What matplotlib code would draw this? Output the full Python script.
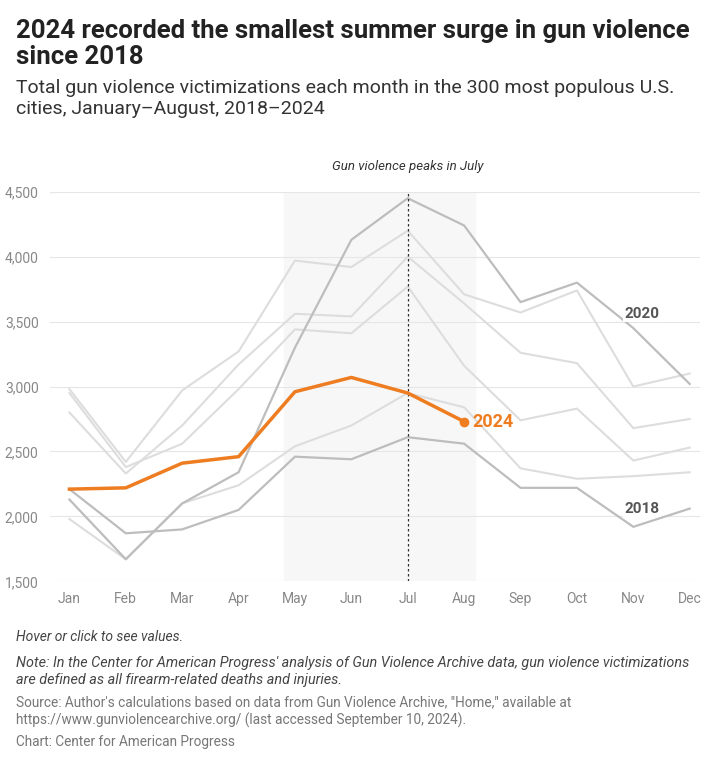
import matplotlib.pyplot as plt
plt.rcParams['font.family'] = ['Roboto', 'DejaVu Sans']

months = ["Jan","Feb","Mar","Apr","May","Jun","Jul","Aug","Sep","Oct","Nov","Dec"]
y2018 = [2210,1870,1900,2050,2460,2440,2610,2560,2220,2220,1920,2060]
y2020 = [2130,1670,2100,2340,3300,4130,4450,4240,3650,3800,3450,3020]
y2021 = [2980,2420,2970,3270,3970,3920,4200,3710,3570,3740,3000,3100]
y2022 = [2800,2330,2700,3170,3560,3540,4000,3640,3260,3180,2680,2750]
y2023 = [2950,2380,2560,2980,3440,3410,3770,3160,2740,2830,2430,2530]
y2019 = [1980,1670,2100,2240,2540,2700,2950,2840,2370,2290,2310,2340]
y2024 = [2210,2220,2410,2460,2960,3070,2950,2730]
yticks = [1500,2000,2500,3000,3500,4000,4500]

fig = plt.figure(figsize=(7.2,7.7), dpi=100)
ax = fig.add_axes([0.069,0.245,0.903,0.506])
x = list(range(12))
ax.axvspan(3.8,7.2,color="#f7f7f7",zorder=0)
for ys in [y2021,y2022,y2023,y2019]:
    ax.plot(x,ys,color="#dddddd",lw=1.5,zorder=2)
for ys in [y2018,y2020]:
    ax.plot(x,ys,color="#bdbdbd",lw=1.6,zorder=3)
ax.plot(range(len(y2024)),y2024,color="#ee7d22",lw=2.5,zorder=5)
ax.plot(7,y2024[-1],'o',color="#ee7d22",ms=6,zorder=6)
ax.text(7.15,y2024[-1],"2024",color="#ee7d22",fontsize=13,fontweight="bold",va="center",zorder=7)
ax.text(10.15,3530,"2020",color="#555555",fontsize=11,fontweight="bold",ha="center",
        bbox=dict(facecolor="white",edgecolor="none",pad=1))
ax.text(10.15,2030,"2018",color="#555555",fontsize=11,fontweight="bold",ha="center",
        bbox=dict(facecolor="white",edgecolor="none",pad=1))
ax.axvline(6,color="#333333",ls=(0,(2,2)),lw=0.9,zorder=4)
ax.text(6,4670,"Gun violence peaks in July",style="italic",fontsize=9.5,ha="center",color="#333333")
ax.set_xlim(-0.35,11.18)
ax.set_ylim(1500,4500)
ax.set_yticks(yticks)
ax.set_yticklabels([f"{v:,}" for v in yticks],color="#888888",fontsize=10)
ax.set_xticks(x)
ax.set_xticklabels(months,color="#888888",fontsize=10)
ax.grid(axis="y",color="#e6e6e6",lw=0.8)
ax.set_axisbelow(True)
for s in ax.spines.values(): s.set_visible(False)
ax.tick_params(length=0,pad=8)

fig.text(0.022,0.975,"2024 recorded the smallest summer surge in gun violence\nsince 2018",
         fontsize=18.5,fontweight="bold",va="top",linespacing=1.1,color="#222222")
fig.text(0.022,0.897,"Total gun violence victimizations each month in the 300 most populous U.S.\ncities, January–August, 2018–2024",
         fontsize=14,va="top",linespacing=1.2,color="#333333")
fig.text(0.022,0.182,"Hover or click to see values.",style="italic",fontsize=10,color="#444444",va="top")
fig.text(0.022,0.148,"Note: In the Center for American Progress' analysis of Gun Violence Archive data, gun violence victimizations\nare defined as all firearm-related deaths and injuries.",
         style="italic",fontsize=10.4,color="#444444",va="top",linespacing=1.25)
fig.text(0.022,0.097,"Source: Author's calculations based on data from Gun Violence Archive, \"Home,\" available at\nhttps://www.gunviolencearchive.org/ (last accessed September 10, 2024).",
         fontsize=9.8,color="#777777",va="top",linespacing=1.25)
fig.text(0.022,0.046,"Chart: Center for American Progress",fontsize=9.8,color="#777777",va="top")
fig.savefig("out.png",dpi=100,facecolor="white")
